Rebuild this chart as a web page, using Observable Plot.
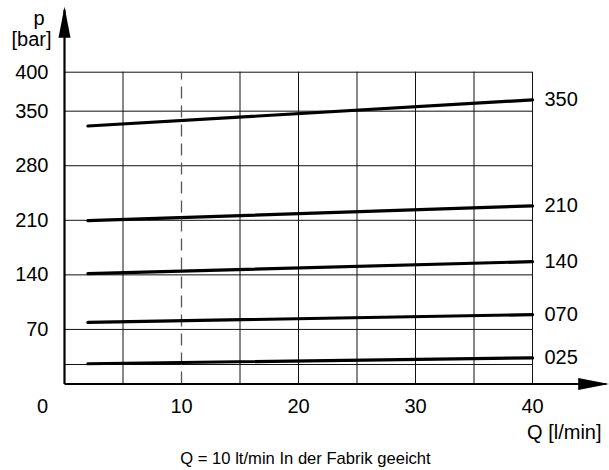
<!DOCTYPE html>
<html><head><meta charset="utf-8">
<script src="https://cdn.jsdelivr.net/npm/d3@7"></script>
<script src="https://cdn.jsdelivr.net/npm/@observablehq/plot@0.6"></script>
<style>body{margin:0;background:#fff} svg{display:block}</style>
</head><body><div id="chart"></div>
<script>
// Data
const seriesNames = ["350", "210", "140", "070", "025"];
const flowStart = 2;
const flowEnd = 40;
const pressureStart = [331, 209.5, 141.5, 79, 26];
const pressureEnd = [364.5, 228.5, 157, 89, 33.5];
const yTickLabels = [70, 140, 210, 280, 350, 400];
const yGridLines = [25, 70, 140, 210, 280, 350, 400];
const xTickLabels = [10, 20, 30, 40];
const xGridLines = [5, 15, 20, 25, 30, 35, 40];
const calibrationFlow = [10];
const xAxisEnd = 46.3;
const yAxisEnd = 480;
const caption = "Q = 10 lt/min In der Fabrik geeicht";

const curves = seriesNames.flatMap((name, i) => [
  {name, q: flowStart, p: pressureStart[i]},
  {name, q: flowEnd, p: pressureEnd[i]}
]);
const endLabels = seriesNames.map((name, i) => ({name, q: flowEnd, p: pressureEnd[i]}));
const axes = [
  {x1: 0, y1: 0, x2: xAxisEnd, y2: 0},
  {x1: 0, y1: 0, x2: 0, y2: yAxisEnd}
];

function filledArrow(len, half, back) {
  return (color, context) => {
    const doc = (context && context.document) || document;
    const ns = "http://www.w3.org/2000/svg";
    const m = doc.createElementNS(ns, "marker");
    m.setAttribute("viewBox", `0 ${-half} ${len} ${2 * half}`);
    m.setAttribute("markerWidth", len);
    m.setAttribute("markerHeight", 2 * half);
    m.setAttribute("markerUnits", "userSpaceOnUse");
    m.setAttribute("orient", "auto");
    m.setAttribute("refX", len - back);
    m.setAttribute("refY", 0);
    m.setAttribute("overflow", "visible");
    const p = doc.createElementNS(ns, "path");
    p.setAttribute("d", `M0,${-half}L${len},0L0,${half}Z`);
    p.setAttribute("fill", "black");
    p.setAttribute("stroke", "none");
    m.appendChild(p);
    return m;
  };
}

const font = "'Liberation Sans', Arial, sans-serif";
const fs = 20;
const capFs = 16.6;

const chart = Plot.plot({
  width: 609,
  height: 470,
  marginLeft: 64,
  marginRight: 77,
  marginTop: 71.7,
  marginBottom: 86.5,
  style: {fontFamily: font, fontSize: fs + "px", background: "white", color: "black"},
  x: {domain: [0, 40], axis: null},
  y: {domain: [0, 400], axis: null},
  marks: [
    Plot.ruleY(yGridLines, {y: d => d, x1: 0, x2: 40, stroke: "#111", strokeWidth: 1}),
    Plot.ruleX(xGridLines, {x: d => d, y1: 0, y2: 400, stroke: "#111", strokeWidth: 1}),
    Plot.ruleX(calibrationFlow, {x: d => d, y1: 0, y2: 400, stroke: "#555", strokeWidth: 1.3, strokeDasharray: "12,7"}),
    Plot.line(curves, {x: "q", y: "p", z: "name", stroke: "black", strokeWidth: 3.2, strokeLinecap: "round"}),
    Plot.link(axes, {x1: "x1", y1: "y1", x2: "x2", y2: "y2", stroke: "black", strokeWidth: 2.2, markerEnd: filledArrow(31, 6, 3)}),
    Plot.text(yTickLabels, {x: 0, y: d => d, text: d => String(d), textAnchor: "end", dx: -16, fontSize: fs}),
    Plot.text(xTickLabels, {x: d => d, y: 0, text: d => String(d), dy: 23, fontSize: fs}),
    Plot.text(["0"], {x: 0, y: 0, text: d => d, dx: -22, dy: 23, fontSize: fs}),
    Plot.text(endLabels, {x: "q", y: "p", text: "name", textAnchor: "start", dx: 12, fontSize: fs}),
    Plot.text(["p"], {frameAnchor: "top-left", text: d => d, dx: -31, dy: -61, fontSize: fs}),
    Plot.text(["[bar]"], {frameAnchor: "top-left", text: d => d, textAnchor: "end", dx: -13, dy: -40, fontSize: fs}),
    Plot.text(["Q [l/min]"], {frameAnchor: "bottom-right", text: d => d, textAnchor: "end", dx: 69, dy: 55, fontSize: fs}),
    Plot.text([caption], {frameAnchor: "bottom", text: d => d, dx: 7, dy: 80, fontSize: capFs})
  ]
});
document.getElementById("chart").appendChild(chart);
</script>
</body></html>
